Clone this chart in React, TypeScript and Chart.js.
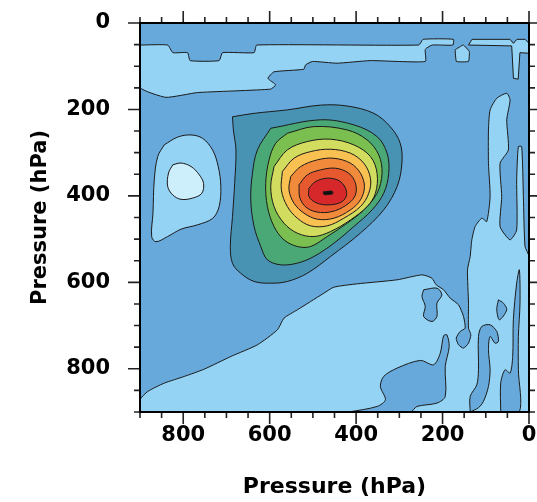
import React, { useEffect, useRef } from "react";
import { Chart, registerables } from "chart.js";

Chart.register(...registerables);

type P = [number, number];

// ---- axis values ----
const X_TICK_LABELS = [0, 200, 400, 600, 800];
const Y_TICK_LABELS = [0, 200, 400, 600, 800];
const MINOR_TICKS = [0, 50, 100, 150, 200, 250, 300, 350, 400, 450, 500, 550, 600, 650, 700, 750, 800, 850, 900];
const AXIS_MIN = 0;
const AXIS_MAX = 900;

// ---- contour polygons, [x hPa, y hPa] ----
const DOMAIN: P[] = [[900, 0], [0, 0], [0, 900], [900, 900]];

const UPPER_BAND: P[] = [
  [900, 51], [836, 51], [824, 68.6], [790, 68.6], [784, 87], [717, 87], [709, 68.6], [636, 68.6],
  [630, 51], [255, 51], [245, 37.8], [175, 37.8], [176, 51], [224, 51], [240, 61], [240, 89],
  [367, 87], [444, 93], [501, 89], [517, 97], [521, 107], [590, 113], [604, 128], [586, 143],
  [598, 153], [767, 161], [840, 172], [900, 149],
];

const UPPER_STRIP: P[] = [
  [140, 51], [132, 37.8], [44, 37.8], [36, 47], [28, 37.8], [9, 37.8], [0, 47], [0, 70],
  [21, 68.6], [25, 130], [36, 128], [40, 53],
];

const UPPER_ISLAND: P[] = [[171, 62], [152, 51], [138, 66], [140, 89], [168, 89]];

const LOWER_LIGHT: P[] = [
  [900, 900], [900, 871.7], [882, 852.4], [843.6, 833.1], [797.5, 817.7], [751.3, 800.8], [689.8, 771.5],
  [628.3, 744.5], [582.1, 709.8], [566.8, 682.9], [536, 663.6], [505.2, 644.3], [474.5, 625],
  [451.4, 611.2], [397.6, 603.5], [305.3, 594.2], [247.6, 582.7], [224.6, 590.4], [214.6, 605.8],
  [197.6, 617.3], [182.3, 636.6], [163, 652], [151.5, 679], [147.7, 706], [159.2, 713.7],
  [168.4, 729.1], [163, 744.5], [151.5, 752.2], [140, 740.7], [134.6, 721.4], [140, 706],
  [140, 648.2], [142.3, 571.1], [136.1, 540.3], [132.3, 501.7], [124.6, 470.9], [109.2, 451.6],
  [97.7, 459.3], [90, 401.5], [93.8, 324.5], [93.8, 247.4], [90, 201.1], [74.6, 174.1],
  [51.5, 162.6], [43.8, 178], [51.5, 224.2], [47.7, 293.6], [66.9, 324.5], [63.1, 401.5],
  [66.9, 470.9], [43.8, 501.7], [28.5, 478.6], [28.5, 363], [24.6, 286], [16.9, 286],
  [13, 401.5], [9.2, 517.1], [0, 540.3], [0, 900],
];

const LOWER_ISLAND: P[] = [
  [243.8, 617.3], [213, 613.5], [201.5, 628.9], [213, 648.2], [213, 679], [224.6, 690.6],
  [243.8, 679], [240, 655.9], [247.6, 632.8],
];

const LOWER_BLOB: P[] = [
  [416.8, 900], [351.4, 887.1], [332.2, 871.7], [343.8, 840.9], [336.1, 817.7], [305.3, 798.5],
  [251.5, 780.7], [220.7, 790.7], [205.3, 763.8], [197.6, 723.7], [190, 721.4], [184.6, 748.4],
  [193.8, 794.6], [193.8, 864], [213, 879.4], [259.2, 887.1], [274.5, 900],
];

const J_STRIP: P[] = [
  [136.1, 900], [136.1, 864], [120.7, 837], [116.9, 802.3], [116.9, 725.2], [109.2, 702.1],
  [90, 698.3], [74.6, 713.7], [70.8, 736.8], [78.5, 740.7], [90, 725.2], [93.8, 756],
  [90, 802.3], [93.8, 840.9], [105.4, 875.5], [116.9, 890],
];

const RIGHT_STRIP: P[] = [
  [65.4, 900], [65.4, 833.1], [55.4, 802.3], [43.8, 810], [37.7, 771.5], [36.2, 686.7],
  [28.5, 601.9], [22.3, 571.1], [20.8, 648.2], [24.6, 725.2], [24.6, 802.3], [22.3, 900],
];

const SMALL_BLOB: P[] = [[70.8, 640.5], [59.2, 648.2], [51.5, 663.6], [68.4, 686.7], [74.6, 663.6]];

const LEFT_BLOB: P[] = [
  [844, 282], [859, 309], [867, 363], [870, 440], [873, 494], [863, 506], [836, 494], [805, 477],
  [767, 467], [732, 452], [717, 425], [713, 378], [719, 332], [732, 294], [755, 267], [782, 259],
  [813, 264],
];

const LEFT_CORE: P[] = [
  [824, 328], [805, 324], [782, 332], [763, 351], [753, 371], [757, 394], [778, 405], [805, 408],
  [824, 398], [836, 378], [834, 347],
];

const LEVEL_1: P[] = [
  [686, 217], [636, 209], [559, 201], [482, 190], [421, 192], [359, 209], [321, 240], [298, 278],
  [294, 324], [305, 378], [336, 432], [390, 486], [459, 540], [513, 579], [559, 598], [598, 602],
  [636, 598], [667, 579], [686, 556], [691, 517], [686, 448], [681, 371], [678, 294], [684, 247],
];

const LEVEL_2: P[] = [
  [597.5, 243.5], [482, 224], [405, 235.8], [351.5, 262.8], [328.4, 301.3], [324.5, 347.6],
  [336.1, 393.8], [363, 432.3], [405.3, 470.9], [451.4, 509.4], [497.6, 540.2], [536, 555.6],
  [574.5, 559.5], [605.2, 547.9], [620.6, 517.1], [636, 470.9], [643.7, 409.2], [639.8, 347.6],
  [628.3, 293.6],
];

const LEVEL_3: P[] = [
  [559.1, 255.1], [497.6, 239.7], [420.7, 247.4], [374.5, 270.5], [347.6, 305.2], [340, 347.6],
  [351.5, 393.8], [382.2, 432.3], [420.7, 463.2], [466.8, 494], [505.3, 517.1], [536, 517.1],
  [566.8, 501.7], [589.9, 470.9], [605.2, 424.6], [609.1, 370.7], [601.4, 316.7], [586, 278.2],
];

const LEVEL_4: P[] = [
  [589.9, 332.1], [559.1, 293.6], [513, 274.3], [459.1, 268.9], [405.3, 282], [366.8, 309],
  [351.5, 347.6], [355.3, 393.8], [374.5, 424.6], [413, 455.5], [459.1, 482.4], [497.6, 494],
  [536, 486.3], [566.8, 463.2], [589.9, 424.6], [597.5, 378.4],
];

const LEVEL_5: P[] = [
  [570.6, 343.7], [543.7, 312.9], [505.3, 297.5], [459.1, 292.1], [413, 301.3], [382.2, 324.4],
  [366.8, 359.1], [370.7, 393.8], [389.9, 424.6], [428.4, 451.6], [466.8, 469.3], [505.3, 469.3],
  [536, 451.6], [559.1, 424.6], [572.9, 386.1],
];

const LEVEL_6: P[] = [
  [551.4, 355.3], [528.3, 332.1], [489.9, 316.7], [451.4, 312.9], [413, 324.4], [389.9, 347.6],
  [380.7, 378.4], [389.9, 409.2], [413, 432.3], [451.4, 451.6], [489.9, 453.9], [520.6, 440],
  [543.7, 416.9], [555.3, 386.1],
];

const LEVEL_7: P[] = [
  [532.2, 374.5], [513, 351.4], [482.2, 339.8], [447.6, 336], [416.8, 347.6], [401.5, 370.7],
  [401.5, 397.6], [416.8, 416.9], [447.6, 433.9], [482.2, 438.5], [513, 428.5], [529.9, 405.4],
];

const LEVEL_8: P[] = [
  [509.1, 382.2], [493.7, 366.8], [466.8, 359.1], [439.9, 364.5], [424.5, 382.2], [423, 401.5],
  [436.1, 415.4], [466.8, 420.8], [493.7, 415.4], [509.1, 401.5],
];

const LEVEL_9: P[] = [[476, 390.7], [455.3, 389.2], [454.5, 395.3], [474.5, 396.9]];

// ---- styles ----
const FONT = "'DejaVu Sans', sans-serif";
const LINE = "#1a1a1a";
const C_MID = "#68a9dc";
const C_LIGHT = "#94d3f3";
const C_LIGHTEST = "#cdeefb";
const C_TEAL = "#4893b3";
const C_DGREEN = "#4aa876";
const C_LGREEN = "#7abf4f";
const C_YELLOW = "#d2dc5e";
const C_LORANGE = "#f9c152";
const C_ORANGE = "#f18a3a";
const C_DORANGE = "#e6582e";
const C_RED = "#d6282a";

const framePlugin = {
  id: "frameTicks",
  afterDraw(chart: any) {
    const { ctx, chartArea } = chart;
    const xs = chart.scales.x;
    const ys = chart.scales.y;
    const { left, right, top, bottom } = chartArea;
    ctx.save();
    ctx.strokeStyle = "#222";
    ctx.lineWidth = 1.6;
    const major = new Set(X_TICK_LABELS);
    const majorY = new Set(Y_TICK_LABELS);
    ctx.beginPath();
    for (const v of MINOR_TICKS) {
      const lx = major.has(v) ? 12 : 6;
      const px = xs.getPixelForValue(v);
      ctx.moveTo(px, bottom);
      ctx.lineTo(px, bottom + lx);
      ctx.moveTo(px, top);
      ctx.lineTo(px, top - lx);
      const ly = majorY.has(v) ? 12 : 6;
      const py = ys.getPixelForValue(v);
      ctx.moveTo(left, py);
      ctx.lineTo(left - ly, py);
      ctx.moveTo(right, py);
      ctx.lineTo(right + ly, py);
    }
    ctx.stroke();
    ctx.strokeStyle = "#000";
    ctx.lineWidth = 2;
    ctx.strokeRect(left, top, right - left, bottom - top);
    ctx.restore();
  },
};

export default function App() {
  const ref = useRef<HTMLCanvasElement>(null);

  useEffect(() => {
    const layers: { pts: P[]; color: string; stroke: boolean; tension: number }[] = [
      { pts: DOMAIN, color: C_MID, stroke: false, tension: 0 },
      { pts: UPPER_BAND, color: C_LIGHT, stroke: true, tension: 0.15 },
      { pts: UPPER_STRIP, color: C_LIGHT, stroke: true, tension: 0 },
      { pts: UPPER_ISLAND, color: C_LIGHT, stroke: true, tension: 0.1 },
      { pts: LOWER_LIGHT, color: C_LIGHT, stroke: true, tension: 0.2 },
      { pts: LOWER_ISLAND, color: C_MID, stroke: true, tension: 0.3 },
      { pts: LOWER_BLOB, color: C_MID, stroke: true, tension: 0.3 },
      { pts: J_STRIP, color: C_MID, stroke: true, tension: 0.3 },
      { pts: RIGHT_STRIP, color: C_MID, stroke: true, tension: 0.3 },
      { pts: SMALL_BLOB, color: C_MID, stroke: true, tension: 0.3 },
      { pts: LEFT_BLOB, color: C_LIGHT, stroke: true, tension: 0.35 },
      { pts: LEFT_CORE, color: C_LIGHTEST, stroke: true, tension: 0.35 },
      { pts: LEVEL_1, color: C_TEAL, stroke: true, tension: 0.35 },
      { pts: LEVEL_2, color: C_DGREEN, stroke: true, tension: 0.35 },
      { pts: LEVEL_3, color: C_LGREEN, stroke: true, tension: 0.35 },
      { pts: LEVEL_4, color: C_YELLOW, stroke: true, tension: 0.35 },
      { pts: LEVEL_5, color: C_LORANGE, stroke: true, tension: 0.35 },
      { pts: LEVEL_6, color: C_ORANGE, stroke: true, tension: 0.35 },
      { pts: LEVEL_7, color: C_DORANGE, stroke: true, tension: 0.35 },
      { pts: LEVEL_8, color: C_RED, stroke: true, tension: 0.35 },
      { pts: LEVEL_9, color: "#111", stroke: true, tension: 0.3 },
    ];

    const datasets = layers.map((l, i) => ({
      data: [...l.pts, l.pts[0]].map(([x, y]) => ({ x, y })),
      backgroundColor: l.color,
      borderColor: l.stroke ? LINE : "rgba(0,0,0,0)",
      borderWidth: l.stroke ? 1 : 0,
      fill: "shape",
      tension: l.tension,
      pointRadius: 0,
      pointHoverRadius: 0,
      order: layers.length - i,
    }));

    const tickFont = { family: FONT, size: 21, weight: "bold" as const };

    const chart = new Chart(ref.current as HTMLCanvasElement, {
      type: "line",
      data: { datasets: datasets as any },
      options: {
        animation: false,
        responsive: false,
        events: [],
        layout: { autoPadding: false, padding: { left: 0, right: 8, top: 23, bottom: 0 } },
        plugins: {
          legend: { display: false },
          tooltip: { enabled: false },
        },
        scales: {
          x: {
            type: "linear",
            position: "bottom",
            min: AXIS_MIN,
            max: AXIS_MAX,
            reverse: true,
            afterBuildTicks: (s: any) => {
              s.ticks = X_TICK_LABELS.map((v) => ({ value: v }));
            },
            afterFit: (s: any) => {
              s.height = 90;
              s.paddingLeft = 0;
              s.paddingRight = 0;
              s.paddingTop = 0;
              s.paddingBottom = 0;
            },
            grid: { display: false, drawTicks: false, tickLength: 0 },
            border: { display: false },
            ticks: {
              padding: 11,
              color: "#000",
              font: tickFont,
              maxRotation: 0,
              autoSkip: false,
              callback: (v: any) => String(v),
            },
            title: {
              display: true,
              text: "Pressure (hPa)",
              color: "#000",
              font: { family: FONT, size: 22, weight: "bold" },
              padding: { top: 0, bottom: 2 },
            },
          },
          y: {
            type: "linear",
            position: "left",
            min: AXIS_MIN,
            max: AXIS_MAX,
            reverse: true,
            afterBuildTicks: (s: any) => {
              s.ticks = Y_TICK_LABELS.map((v) => ({ value: v }));
            },
            afterFit: (s: any) => {
              s.width = 140;
              s.paddingLeft = 0;
              s.paddingRight = 0;
              s.paddingTop = 0;
              s.paddingBottom = 0;
            },
            grid: { display: false, drawTicks: false, tickLength: 0 },
            border: { display: false },
            ticks: {
              padding: 30,
              color: "#000",
              font: tickFont,
              autoSkip: false,
              callback: (v: any) => String(v),
            },
            title: {
              display: true,
              text: "Pressure (hPa)",
              color: "#000",
              font: { family: FONT, size: 21, weight: "bold" },
              padding: { top: 28, bottom: 0 },
            },
          },
        },
      } as any,
      plugins: [framePlugin],
    });

    return () => chart.destroy();
  }, []);

  return (
    <div style={{ position: "absolute", left: 0, top: 0, width: 537, height: 502 }}>
      <canvas ref={ref} width={537} height={502} style={{ display: "block" }} />
    </div>
  );
}
